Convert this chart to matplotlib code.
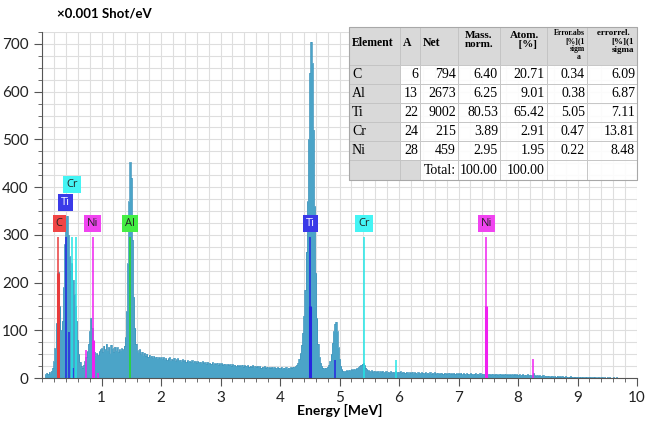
import numpy as np
import matplotlib
matplotlib.use("Agg")
import matplotlib.pyplot as plt
from matplotlib.patches import Rectangle
from matplotlib.ticker import MultipleLocator

# spectrum, 0.02 MeV channels (x0.001 shot/eV)
counts = [
    0, 0, 0, 8, 11, 9, 13, 10, 15, 22, 35, 62, 115, 195, 222, 150, 100, 120, 190, 280, 335, 340, 300, 255, 225,
    240, 205, 175, 150, 120, 80, 50, 34, 26, 22, 28, 35, 45, 56, 72, 98, 126, 105, 75, 55, 46, 52, 48, 56, 60,
    62, 55, 68, 60, 72, 58, 65, 52, 70, 62, 55, 66, 58, 64, 55, 60, 58, 62, 60, 68, 85, 140, 240, 370, 452,
    420, 290, 170, 105, 72, 58, 54, 60, 50, 55, 48, 53, 47, 51, 45, 49, 44, 47, 42, 46, 43, 45, 41, 44, 42,
    43, 40, 44, 39, 42, 38, 41, 43, 37, 40, 38, 42, 36, 39, 41, 37, 38, 35, 39, 36, 38, 34, 37, 35, 36,
    34, 37, 33, 36, 35, 32, 35, 33, 34, 31, 35, 32, 33, 30, 34, 31, 32, 30, 33, 29, 31, 30, 32, 28, 31,
    29, 31, 28, 30, 29, 27, 30, 28, 29, 26, 29, 27, 28, 25, 28, 26, 27, 25, 28, 24, 27, 26, 25, 27, 24,
    26, 24, 27, 23, 25, 24, 26, 23, 25, 22, 24, 23, 25, 22, 24, 21, 23, 22, 24, 21, 23, 22, 21, 23, 22,
    21, 23, 20, 22, 21, 23, 20, 22, 21, 23, 22, 24, 23, 25, 28, 32, 40, 52, 70, 95, 130, 185, 265, 370, 500,
    640, 705, 660, 520, 360, 220, 125, 72, 44, 32, 25, 22, 20, 22, 21, 24, 28, 35, 50, 74, 98, 114, 118, 98, 64,
    40, 25, 18, 15, 14, 15, 16, 15, 17, 16, 18, 17, 19, 18, 20, 21, 23, 26, 28, 30, 31, 27, 22, 18, 16,
    15, 14, 16, 13, 15, 14, 13, 15, 12, 14, 13, 15, 12, 13, 14, 12, 13, 11, 14, 12, 13, 12, 14, 12, 13,
    12, 14, 11, 13, 12, 11, 13, 12, 10, 12, 11, 13, 10, 12, 11, 10, 12, 11, 10, 12, 11, 10, 12, 10, 11,
    10, 12, 9, 11, 10, 12, 9, 11, 10, 9, 11, 10, 9, 11, 10, 9, 10, 11, 9, 10, 9, 11, 9, 10, 9,
    10, 9, 11, 8, 10, 9, 8, 10, 9, 8, 10, 9, 8, 9, 10, 8, 9, 8, 10, 8, 9, 8, 9, 8, 9,
    8, 9, 7, 9, 8, 7, 9, 8, 7, 8, 9, 7, 8, 7, 9, 7, 8, 7, 8, 7, 8, 7, 9, 7, 8,
    7, 8, 6, 7, 8, 6, 7, 6, 8, 6, 7, 6, 7, 10, 6, 5, 6, 5, 6, 4, 5, 6, 4, 5, 4,
    5, 4, 3, 5, 4, 3, 4, 3, 5, 3, 4, 3, 4, 3, 3, 4, 3, 2, 3, 4, 3, 2, 3, 3, 2,
    3, 2, 3, 2, 3, 2, 2, 3, 2, 2, 3, 2, 2, 2, 3, 2, 1, 2, 2, 1, 2, 2, 1, 2, 1,
    2, 1, 2, 1, 1, 2, 1, 1, 2, 1, 1, 1, 1, 1, 0, 0, 0, 0, 0, 0, 0, 0, 0, 0, 0,
]
channel_width = 0.02
energy = np.arange(len(counts)) * channel_width

# element marker lines
marker_energy = [0.277, 0.395, 0.452, 0.529, 4.51, 4.93, 0.50, 0.573, 5.41, 5.95,
                 0.743, 0.851, 0.94, 7.47, 8.26, 1.486]
marker_height = [295, 295, 97, 20, 295, 38, 295, 295, 295, 38, 59, 295, 10, 295, 40, 295]
marker_elem = ['C', 'Ti', 'Ti', 'Ti', 'Ti', 'Ti', 'Cr', 'Cr', 'Cr', 'Cr',
               'Ni', 'Ni', 'Ni', 'Ni', 'Ni', 'Al']
strong_energy = [0.277, 4.51, 0.851, 7.47]
strong_height = [220, 150, 80, 150]
strong_elem = ['C', 'Ti', 'Ni', 'Ni']

label_text = ['C', 'Ti', 'Cr', 'Ni', 'Al', 'Ti', 'Cr', 'Ni']
label_x = [0.29, 0.40, 0.51, 0.85, 1.486, 4.51, 5.41, 7.47]
label_y = [323, 368, 405, 323, 323, 323, 323, 323]

line_colors = {'C': '#e83c3c', 'Ti': '#2626e0', 'Cr': '#22e6e6', 'Ni': '#f020f0', 'Al': '#22dd22'}
box_colors = {'C': '#f04545', 'Ti': '#3a3ae8', 'Cr': '#44f4f4', 'Ni': '#f044f0', 'Al': '#44ee44'}
text_colors = {'C': '#222222', 'Ti': 'white', 'Cr': '#222222', 'Ni': '#222222', 'Al': '#222222'}

# quantification table
elements = ['C', 'Al', 'Ti', 'Cr', 'Ni']
atomic_no = ['6', '13', '22', '24', '28']
net = ['794', '2673', '9002', '215', '459']
mass_norm = ['6.40', '6.25', '80.53', '3.89', '2.95']
atom_pct = ['20.71', '9.01', '65.42', '2.91', '1.95']
err_abs = ['0.34', '0.38', '5.05', '0.47', '0.22']
err_rel = ['6.09', '6.87', '7.11', '13.81', '8.48']

plt.rcParams['font.family'] = ['Lato', 'DejaVu Sans']

W, H = 649, 429
fig = plt.figure(figsize=(W / 100, H / 100), dpi=100)
ax = fig.add_axes([42 / W, 51 / H, 595 / W, 346 / H])

ax.fill_between(energy, counts, step='mid', color='#4ba4c8', lw=0, zorder=2)
ax.step(energy, counts, where='mid', color='#3a92ba', lw=0.5, zorder=2)

for e, h, el in zip(marker_energy, marker_height, marker_elem):
    ax.vlines(e, 0, h, color=line_colors[el], lw=1.1, zorder=3)
for e, h, el in zip(strong_energy, strong_height, strong_elem):
    ax.vlines(e, 0, h, color=line_colors[el], lw=2.2, zorder=3)
for t, x, y in zip(label_text, label_x, label_y):
    ax.text(x, y, t, ha='center', va='center', fontsize=8, color=text_colors[t], zorder=5,
            family=['Open Sans', 'DejaVu Sans'],
            bbox=dict(boxstyle='square,pad=0.28', fc=box_colors[t], ec='none'))

ax.set_xlim(0, 10)
ax.set_ylim(0, 725)
ax.set_xticks(range(1, 11))
ax.xaxis.set_minor_locator(MultipleLocator(0.2))
ax.yaxis.set_major_locator(MultipleLocator(100))
ax.yaxis.set_minor_locator(MultipleLocator(25))
ax.grid(True, which='both', color='#dedede', lw=0.8, zorder=0)
ax.set_axisbelow(True)
for s in ['top', 'right']:
    ax.spines[s].set_visible(False)
for s in ['left', 'bottom']:
    ax.spines[s].set_color('#555555')
ax.tick_params(which='major', length=6, color='#555555', labelsize=11, labelcolor='#222222')
ax.tick_params(which='minor', length=3, color='#555555')
ax.set_xlabel('Energy [MeV]', fontsize=10, fontweight='bold', labelpad=-1)
fig.text(57 / W, 1 - 14 / H, '×0.001 Shot/eV', fontsize=9.5, fontweight='bold', va='center', ha='left')

# table drawn in figure pixels
col_edges = [349, 400, 420, 458, 500, 547, 587, 637]
row_edges = [27, 65, 84, 103, 122, 141, 160, 180]


def fx(px):
    return px / W


def fy(py):
    return 1 - py / H


def cell(c0, c1, r0, r1, fc, alpha=1.0):
    fig.add_artist(Rectangle((fx(c0), fy(r1)), fx(c1) - fx(c0), fy(r0) - fy(r1),
                             transform=fig.transFigure, fc=fc, ec='#c4c4c4', lw=0.7, alpha=alpha, zorder=10))


serif = ['Liberation Serif', 'DejaVu Serif']
for r in range(len(row_edges) - 1):
    for c in range(len(col_edges) - 1):
        gray = r == 0 or c == 0 or (r == len(row_edges) - 2 and c == 1)
        cell(col_edges[c], col_edges[c + 1], row_edges[r], row_edges[r + 1],
             '#d9d9d9' if gray else 'white', 1.0 if gray else 0.9)
fig.add_artist(Rectangle((fx(349), fy(180)), fx(637) - fx(349), fy(27) - fy(180),
                         transform=fig.transFigure, fc='none', ec='#a8a8a8', lw=0.8, zorder=11))


def txt(px, py, s, **kw):
    kw.setdefault('family', serif)
    kw.setdefault('zorder', 12)
    fig.text(fx(px), fy(py), s, **kw)


hb = dict(fontweight='bold', fontsize=8.5, va='center', ha='left')
txt(352, 43, 'Element', **hb)
txt(403, 43, 'A', **hb)
txt(423, 43, 'Net', **hb)
txt(479, 40, 'Mass.\nnorm.', fontweight='bold', fontsize=8, va='center', ha='center', linespacing=1.1)
txt(525, 40, 'Atom.\n  [%]', fontweight='bold', fontsize=8, va='center', ha='center', linespacing=1.1)
txt(585, 29, 'Error.abs\n[%](1\nsigm\na  ', fontweight='bold', fontsize=5.5, va='top', ha='right',
    multialignment='right', linespacing=1.0)
txt(634, 29, 'errorrel.  \n[%](1\nsigma', fontweight='bold', fontsize=6.5, va='top', ha='right',
    multialignment='right', linespacing=1.05)

body = dict(fontsize=10, va='center')
columns = [atomic_no, net, mass_norm, atom_pct, err_abs, err_rel]
for i, el in enumerate(elements):
    yc = (row_edges[i + 1] + row_edges[i + 2]) / 2
    txt(352, yc, el, ha='left', **body)
    for j, col in enumerate(columns):
        txt(col_edges[j + 2] - 2, yc, col[i], ha='right', **body)
yt = (row_edges[-2] + row_edges[-1]) / 2
txt(col_edges[3] - 2, yt, 'Total:', ha='right', **body)
txt(col_edges[4] - 2, yt, '100.00', ha='right', **body)
txt(col_edges[5] - 2, yt, '100.00', ha='right', **body)

fig.savefig('out.png', dpi=100)
